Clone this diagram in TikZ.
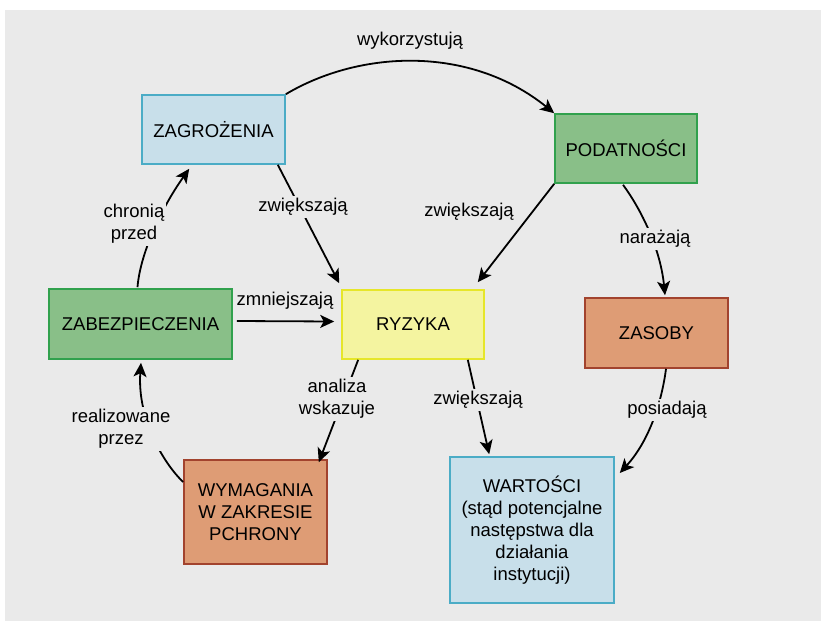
\documentclass[tikz,border=0pt]{standalone}
\usepackage{fontspec}
\setmainfont{Liberation Sans}
\usetikzlibrary{arrows.meta,calc}
\definecolor{bggray}{HTML}{EAEAEA}
\definecolor{bluefill}{HTML}{C8DFEA}
\definecolor{blueline}{HTML}{4BACC6}
\definecolor{greenfill}{HTML}{89BF88}
\definecolor{greenline}{HTML}{31A14D}
\definecolor{yellowfill}{HTML}{F4F4A0}
\definecolor{yellowline}{HTML}{E6E62A}
\definecolor{orangefill}{HTML}{DE9C75}
\definecolor{orangeline}{HTML}{A2432E}
\newcommand\myfsz{\fontsize{18.5}{22}\selectfont}
\begin{document}
\begin{tikzpicture}[x=1pt,y=-1pt,
  box/.style={rectangle, line width=1.6pt, align=center, inner sep=0pt, font=\myfsz},
  bluebox/.style={box, draw=blueline, fill=bluefill},
  greenbox/.style={box, draw=greenline, fill=greenfill},
  yellowbox/.style={box, draw=yellowline, fill=yellowfill},
  orangebox/.style={box, draw=orangeline, fill=orangefill},
  lbl/.style={font=\myfsz, align=center, inner sep=2pt},
  cutlbl/.style={lbl, fill=bggray},
  conn/.style={line width=1.8pt, -{Stealth[length=14pt,width=13pt,inset=3.5pt]}}]
\useasboundingbox (0,0) rectangle (821,621);
\fill[white] (0,0) rectangle (821,621);
\fill[bggray] (5,10) rectangle (821,621);

% boxes
\node[bluebox, minimum width=143pt, minimum height=69pt] (zag) at (213.5,129.5) {ZAGROŻENIA};
\node[greenbox, minimum width=142pt, minimum height=69pt] (pod) at (626,148.5) {PODATNOŚCI};
\node[greenbox, minimum width=183pt, minimum height=70pt] (zab) at (140.5,324) {ZABEZPIECZENIA};
\node[yellowbox, minimum width=142pt, minimum height=69pt] (ryz) at (413,324.5) {RYZYKA};
\node[orangebox, minimum width=143pt, minimum height=70pt] (zas) at (656.5,333) {ZASOBY};
\node[orangebox, minimum width=143pt, minimum height=104pt] (wym) at (255.5,512) {WYMAGANIA\\W ZAKRESIE\\PCHRONY};
\node[bluebox, minimum width=164pt, minimum height=146pt] (war) at (532,530) {WARTOŚCI\\(stąd potencjalne\\następstwa dla\\działania\\instytucji)};

% connectors
\draw[conn] (zag.north east) .. controls (360,50) and (470,45) .. (pod.north west);
\draw[conn] ($(zag.south east)+(-8,0)$) -- ($(ryz.north west)+(-2,-6)$);
\draw[conn] (pod.south west) -- ($(ryz.north east)+(-7,-7)$);
\draw[conn] ($(pod.south)+(-3,1)$) .. controls (638,205) and (660,245) .. ($(zas.north)+(8.5,-2)$);
\draw[conn] ($(zas.south)+(9.5,0)$) .. controls (662,400) and (650,440) .. ($(war.east)+(5,-57)$);
\draw[conn] ($(ryz.south east)+(-17,0)$) -- ($(war.north west)+(40,-2)$);
\draw[conn] ($(ryz.south west)+(17,0)$) -- ($(wym.north east)+(-9,3)$);
\draw[conn] ($(zab.east)+(4,-3)$) -- ($(ryz.west)+(-7,-3)$);
\draw[conn] ($(zab.north)+(-3,-1)$) .. controls (140,255) and (160,210) .. ($(zag.south west)+(48,4)$);
\draw[conn] ($(wym.west)+(0,-30)$) .. controls (165,465) and (137,420) .. ($(zab.south)+(0.5,3)$);

% labels
\node[lbl] (l1) at (410,41) {wykorzystują};
\node[cutlbl] (l2) at (303,207) {zwiększają};
\node[lbl] (l3) at (469,212) {zwiększają};
\node[cutlbl] (l4) at (655,239) {narażają};
\node[cutlbl] (l5) at (667,410) {posiadają};
\node[cutlbl] (l6) at (478,400) {zwiększają};
\node[cutlbl] (l7) at (337,399) {analiza\\wskazuje};
\node[lbl] (l8) at (285,301) {zmniejszają};
\node[cutlbl] (l9) at (134,224) {chronią\\przed};
\node[cutlbl] (l10) at (121,429) {realizowane\\przez};
\end{tikzpicture}
\end{document}
